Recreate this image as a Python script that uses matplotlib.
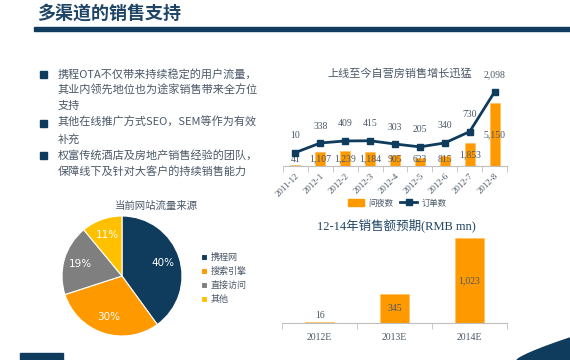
import matplotlib
matplotlib.use("Agg")
import matplotlib.pyplot as plt
import numpy as np
from matplotlib.patches import Rectangle, Polygon, Patch
from matplotlib.lines import Line2D

plt.rcParams['font.family'] = ['Liberation Serif', 'Noto Sans CJK SC', 'DejaVu Sans']

# ---------------- data ----------------
slide_title = "多渠道的销售支持"
bullets = [
    ["携程OTA不仅带来持续稳定的用户流量，", "其业内领先地位也为途家销售带来全方位", "支持"],
    ["其他在线推广方式SEO，SEM等作为有效", "补充"],
    ["权富传统酒店及房地产销售经验的团队，", "保障线下及针对大客户的持续销售能力"],
]

months = ["2011-12", "2012-1", "2012-2", "2012-3", "2012-4", "2012-5", "2012-6", "2012-7", "2012-8"]
room_nights = [41, 1107, 1239, 1184, 905, 623, 815, 1853, 5150]
orders = [10, 338, 409, 415, 303, 205, 340, 730, 2098]
chart1_title = "上线至今自营房销售增长迅猛"
chart1_legend = ["间夜数", "订单数"]

pie_title = "当前网站流量来源"
pie_labels = ["携程网", "搜索引擎", "直接访问", "其他"]
pie_values = [40, 30, 19, 11]

years = ["2012E", "2013E", "2014E"]
sales = [16, 345, 1023]
chart2_title = "12-14年销售额预期(RMB mn)"

# ---------------- style ----------------
NAVY = "#0f3b5c"
ORANGE = "#ff9900"
GRAY = "#7f7f7f"
YELLOW = "#ffc000"
TXT = "#4a5868"
TITLE = "#1f4566"
AXC = "#bfbfbf"
CJK = ['Noto Sans CJK SC', 'DejaVu Sans']

W, H = 570, 360
fig = plt.figure(figsize=(5.7, 3.6), dpi=100)
fig.patch.set_facecolor("white")

def rect(x0, y0, x1, y1):
    return [x0 / W, 1 - y1 / H, (x1 - x0) / W, (y1 - y0) / H]

def fx(x):
    return x / W

def fy(y):
    return 1 - y / H

# ---------------- slide title & decorations ----------------
fig.text(fx(37), fy(13), slide_title, fontsize=13, color=TITLE, family=CJK,
         va='center', ha='left', fontweight='bold')
fig.patches.append(Rectangle((fx(34), fy(31)), fx(570) - fx(34), fy(27) - fy(31),
                             transform=fig.transFigure, color=NAVY, zorder=0))
fig.patches.append(Rectangle((fx(20), fy(360)), fx(63) - fx(20), fy(353) - fy(360),
                             transform=fig.transFigure, color=NAVY, zorder=0))
sw_x = np.linspace(517, 570, 30)
sw_y = 360 - 22 * ((sw_x - 517) / 53) ** 0.8
pts = [(fx(x), fy(y)) for x, y in zip(sw_x, sw_y)] + [(fx(570), fy(360)), (fx(517), fy(360))]
fig.patches.append(Polygon(pts, closed=True, transform=fig.transFigure, color=NAVY, zorder=0))

# ---------------- bullets ----------------
y = 74
for b in bullets:
    fig.patches.append(Rectangle((fx(40), fy(y + 4)), 7 / W, 7 / H,
                                 transform=fig.transFigure, color=NAVY))
    for line in b:
        fig.text(fx(58), fy(y), line, fontsize=8, color=TXT, family=CJK,
                 va='center', ha='left')
        y += 16.2

# ---------------- chart 1: bars + line ----------------
ax1 = fig.add_axes(rect(283, 84, 507, 166))
x = np.arange(len(months))
ax1.bar(x, room_nights, width=0.4, color=ORANGE, edgecolor="#ffc060", linewidth=0.5, zorder=1)
ax1.set_xlim(-0.5, len(months) - 0.5)
ax1.set_ylim(0, 6700)
for xi, v in zip(x, room_nights):
    ax1.text(xi, max(v / 2, 500), f"{v:,}", ha='center', va='center', fontsize=7, color=TXT, zorder=5)
ax1.set_yticks([])
for s in ["top", "right", "left"]:
    ax1.spines[s].set_visible(False)
ax1.spines["bottom"].set_color(AXC)
ax1.set_xticks(x)
ax1.set_xticklabels(months, rotation=45, ha='right', rotation_mode='anchor', fontsize=6.5, color=TXT)
ax1.tick_params(axis='x', which='major', length=0, pad=4)
ax1.set_xticks(np.arange(-0.5, len(months), 1.0), minor=True)
ax1.tick_params(axis='x', which='minor', length=4, color=AXC)
ax1.patch.set_alpha(0)

ax1b = ax1.twinx()
ax1b.plot(x, orders, color=NAVY, linewidth=2, marker='s', markersize=5, zorder=3)
ax1b.set_ylim(-455, 2373)
ax1b.set_yticks([])
for s in ["top", "right", "left", "bottom"]:
    ax1b.spines[s].set_visible(False)
for xi, v in zip(x, orders):
    ax1b.annotate(f"{v:,}", (xi, v), xytext=(0, 9), textcoords='offset points',
                  ha='center', va='bottom', fontsize=7, color=TXT)

fig.text(fx(400), fy(74), chart1_title, fontsize=8, color=TXT, family=CJK, ha='center', va='center')
handles = [Patch(facecolor=ORANGE, edgecolor=ORANGE),
           Line2D([0], [0], color=NAVY, linewidth=2, marker='s', markersize=5)]
fig.legend(handles, chart1_legend, loc='center', bbox_to_anchor=(fx(397), fy(203)),
           ncol=2, frameon=False, prop={'family': CJK, 'size': 6}, labelcolor=TXT,
           handlelength=2.0, handleheight=0.8, columnspacing=0.8, handletextpad=0.5)

# ---------------- pie ----------------
axp = fig.add_axes(rect(62, 216, 182, 336))
wedges, _, autotexts = axp.pie(pie_values, colors=[NAVY, ORANGE, GRAY, YELLOW], startangle=90,
                               counterclock=False, radius=1,
                               autopct=lambda p: f"{p:.0f}%", pctdistance=0.72,
                               wedgeprops=dict(edgecolor='white', linewidth=0.8),
                               textprops=dict(color='white', fontsize=7.5, family='DejaVu Sans'))
axp.set_xlim(-1, 1)
axp.set_ylim(-1, 1)
axp.set_aspect('equal')
fig.text(fx(156), fy(206), pie_title, fontsize=7.5, color=TXT, family=CJK, ha='center', va='center')
fig.legend(wedges, pie_labels, loc='upper left', bbox_to_anchor=(fx(193), fy(245)),
           frameon=False, prop={'family': CJK, 'size': 6.5}, labelcolor=TXT,
           handlelength=0.6, handleheight=0.6, handletextpad=0.5, labelspacing=0.55)

# ---------------- chart 2 ----------------
ax2 = fig.add_axes(rect(282, 233, 507, 323))
x2 = np.arange(len(years))
ax2.bar(x2, sales, width=0.39, color=ORANGE, edgecolor="#ffc060", linewidth=0.5)
ax2.set_xlim(-0.5, len(years) - 0.5)
ax2.set_ylim(0, 1083)
for xi, v in zip(x2, sales):
    ax2.text(xi, max(v / 2, 95), f"{v:,}", ha='center', va='center', fontsize=7, color=TXT)
ax2.set_yticks([])
for s in ["top", "right", "left"]:
    ax2.spines[s].set_visible(False)
ax2.spines["bottom"].set_color(AXC)
ax2.set_xticks(x2)
ax2.set_xticklabels(years, fontsize=7, color=TXT)
ax2.tick_params(axis='x', which='major', length=0, pad=7)
ax2.set_xticks(np.arange(-0.5, len(years), 1.0), minor=True)
ax2.tick_params(axis='x', which='minor', length=4, color=AXC)
ax2.patch.set_alpha(0)
fig.text(fx(396), fy(225), chart2_title, fontsize=9, color=TITLE, ha='center', va='center')

fig.savefig("out.png", dpi=100)
